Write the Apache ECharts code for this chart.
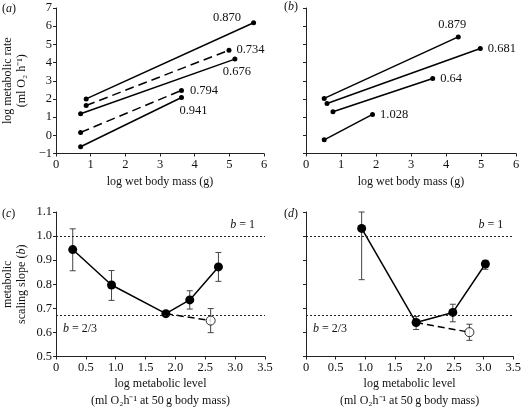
<!DOCTYPE html>
<html><head><meta charset="utf-8">
<script src="https://cdn.jsdelivr.net/npm/echarts@6/dist/echarts.min.js"></script>
<style>html,body{margin:0;padding:0;background:#fff}#c{width:524px;height:411px}</style>
</head><body><div id="c"></div>
<script>
// ---- Panel (a): regression lines (start/end points) ----
const aLineX = [[0.87, 5.70],[0.87, 4.99],[0.71, 5.16],[0.71, 3.62],[0.71, 3.62]];
const aLineY = [[2.00, 6.19],[1.64, 4.68],[1.19, 4.19],[0.16, 2.47],[-0.63, 2.08]];
const aLabels = ['0.870','0.734','0.676','0.794','0.941'];
const aDashed = [false, true, false, true, false];
// ---- Panel (b) ----
const bLineX = [[0.52, 4.35],[0.60, 4.98],[0.77, 3.62],[0.52, 1.90]];
const bLineY = [[2.03, 5.41],[1.75, 4.77],[1.30, 3.12],[-0.25, 1.15]];
const bLabels = ['0.879','0.681','0.64','1.028'];
// ---- Panel (c): slopes vs metabolic level ----
const cX = [0.28, 0.93, 1.84, 2.24, 2.72];
const cY = [0.944, 0.797, 0.678, 0.735, 0.872];
const cLo = [0.856, 0.733, 0.672, 0.697, 0.812];
const cHi = [1.030, 0.857, 0.684, 0.773, 0.932];
const cOpenX = [2.59], cOpenY = [0.649], cOpenLo = [0.599], cOpenHi = [0.699];
// ---- Panel (d) ----
const dX = [0.94, 1.86, 2.48, 3.03];
const dY = [1.032, 0.641, 0.683, 0.884];
const dLo = [0.819, 0.612, 0.644, 0.862];
const dHi = [1.100, 0.666, 0.717, 0.899];
const dOpenX = [2.76], dOpenY = [0.601], dOpenLo = [0.567], dOpenHi = [0.634];
const refLines = [1, 2/3];
const topXTicks = [0,1,2,3,4,5,6];
const botXTicks = [0,0.5,1,1.5,2,2.5,3,3.5];

const FONT = 'Liberation Serif';
const txt = {fontFamily: FONT, fontSize: 12, color: '#111'};
const axisLine = {show: true, onZero: false, lineStyle: {color: '#222', width: 1}};
const axisTick = {show: true, length: 3, lineStyle: {color: '#222'}};

function xAx(gi, max, interval, name, showLabels, fmt, nameGap){
  return {gridIndex: gi, type: 'value', min: 0, max: max, interval: interval,
    axisLine, axisTick, splitLine: {show: false},
    axisLabel: {show: showLabels, margin: 5, ...txt, fontSize: 12.5, formatter: fmt},
    name: name, nameLocation: 'middle', nameGap: nameGap,
    nameTextStyle: {...txt, lineHeight: 17}};
}
function yAx(gi, min, max, interval, showLabels, fmt, name, nameGap, rich){
  return {gridIndex: gi, type: 'value', min: min, max: max, interval: interval,
    axisLine, axisTick, splitLine: {show: false},
    axisLabel: {show: showLabels, margin: 4, ...txt, fontSize: 12.5, formatter: fmt},
    name: name || '', nameLocation: 'middle', nameGap: nameGap || 0, nameRotate: 90,
    nameTextStyle: {...txt, lineHeight: 14, rich: rich}};
}
const minus = v => String(v).replace('-', '\u2212');
const dec1 = v => v === 0 ? '0' : v.toFixed(1);

const series = [];
function regLines(gi, xs, ys, labels, dashed, labelPos){
  xs.forEach((xx, i) => {
    series.push({type: 'line', xAxisIndex: gi, yAxisIndex: gi, animation: false,
      symbol: 'circle', symbolSize: 5, itemStyle: {color: '#000'},
      lineStyle: {color: '#000', width: 1.5, type: dashed && dashed[i] ? [9, 5] : 'solid'},
      data: [[xx[0], ys[i][0]], {value: [xx[1], ys[i][1]],
        label: {show: true, formatter: labels[i], ...txt, fontSize: 12.5,
          position: labelPos[i][0], distance: labelPos[i][1], offset: labelPos[i][2] || [0,0]}}]});
  });
}
regLines(0, aLineX, aLineY, aLabels, aDashed,
  [['left', 6, [-4,-5]], ['right', 5], ['bottom', 4, [2,0]], ['right', 6], ['bottom', 4, [12,0]]]);
regLines(1, bLineX, bLineY, bLabels, null,
  [['top', 5, [-6, 2]], ['right', 5], ['right', 5], ['right', 5]]);

function errBars(gi, xs, lo, hi){
  series.push({type: 'custom', xAxisIndex: gi, yAxisIndex: gi, animation: false, z: 1,
    data: xs.map((x, i) => [x, lo[i], hi[i]]),
    renderItem: (params, api) => {
      const a = api.coord([api.value(0), api.value(1)]);
      const b = api.coord([api.value(0), api.value(2)]);
      const w = 3;
      const st = {stroke: '#444', lineWidth: 1};
      return {type: 'group', children: [
        {type: 'line', shape: {x1: a[0], y1: a[1], x2: b[0], y2: b[1]}, style: st},
        {type: 'line', shape: {x1: a[0]-w, y1: a[1], x2: a[0]+w, y2: a[1]}, style: st},
        {type: 'line', shape: {x1: b[0]-w, y1: b[1], x2: b[0]+w, y2: b[1]}, style: st}]};
    }});
}
function refMark(){
  return {silent: true, symbol: 'none', animation: false,
    lineStyle: {type: [2, 2], color: '#222', width: 1},
    data: [
      {yAxis: refLines[0], label: {show: true, position: 'insideEndTop', distance: [10, 5],
        formatter: '{i|b} = 1', ...txt, rich: {i: {fontFamily: FONT, fontStyle: 'italic', fontSize: 12}}}},
      {yAxis: refLines[1], label: {show: true, position: 'insideStartBottom', distance: [7, 7],
        formatter: '{i|b} = 2/3', ...txt, rich: {i: {fontFamily: FONT, fontStyle: 'italic', fontSize: 12}}}}
    ]};
}
function slopePanel(gi, xs, ys, lo, hi, ox, oy, olo, ohi, joinIdx){
  errBars(gi, xs, lo, hi);
  errBars(gi, ox, olo, ohi);
  series.push({type: 'line', xAxisIndex: gi, yAxisIndex: gi, animation: false, z: 3,
    data: [[xs[joinIdx], ys[joinIdx]], [ox[0], oy[0]]], symbol: 'none',
    lineStyle: {color: '#000', width: 1.5, type: [7, 4]}});
  series.push({type: 'line', xAxisIndex: gi, yAxisIndex: gi, animation: false, z: 4,
    data: xs.map((x, i) => [x, ys[i]]), symbol: 'circle', symbolSize: 9,
    itemStyle: {color: '#000'}, lineStyle: {color: '#000', width: 1.5},
    markLine: refMark()});
  series.push({type: 'scatter', xAxisIndex: gi, yAxisIndex: gi, animation: false, z: 5,
    data: ox.map((x, i) => [x, oy[i]]), symbol: 'circle', symbolSize: 9,
    itemStyle: {color: '#fff', borderColor: '#000', borderWidth: 1}});
}
slopePanel(2, cX, cY, cLo, cHi, cOpenX, cOpenY, cOpenLo, cOpenHi, 2);
slopePanel(3, dX, dY, dLo, dHi, dOpenX, dOpenY, dOpenLo, dOpenHi, 1);

const xName2 = 'log metabolic level\n(ml O\u2082h\u207B\u00B9 at 50\u2009g body mass)';
const it = {fontFamily: FONT, fontStyle: 'italic', fontSize: 12, color: '#111'};
const nm = {fontFamily: FONT, fontSize: 12, color: '#111'};

const option = {
  backgroundColor: '#fff', animation: false,
  grid: [
    {left: 55, top: 8, width: 209, height: 145.5},
    {left: 306, top: 8, width: 210, height: 145.5},
    {left: 55, top: 212, width: 210, height: 144.5},
    {left: 306, top: 212, width: 210, height: 144.5}
  ],
  xAxis: [
    xAx(0, 6, 1, 'log wet body mass (g)', true, v => String(v), 20),
    xAx(1, 6, 1, 'log wet body mass (g)', true, v => String(v), 20),
    xAx(2, 3.5, 0.5, xName2, true, dec1, 17),
    xAx(3, 3.5, 0.5, xName2, true, dec1, 17)
  ],
  yAxis: [
    yAx(0, -1, 7, 1, true, minus, 'log metabolic rate\n(ml O\u2082 h\u207B\u00B9)', 27),
    yAx(1, -1, 7, 1, false, minus),
    yAx(2, 0.5, 1.1, 0.1, true, v => v.toFixed(1),
      '{n|metabolic}\n{n|scaling slope (}{i|b}{n|)}', 27, {n: nm, i: it}),
    yAx(3, 0.5, 1.1, 0.1, false, v => v.toFixed(1))
  ],
  graphic: [
    {type: 'text', left: 2, top: 3, style: {text: '({i|a})', font: '12px "Liberation Serif"', fill: '#111', rich: {i: it}}},
    {type: 'text', left: 284, top: 1, style: {text: '({i|b})', font: '12px "Liberation Serif"', fill: '#111', rich: {i: it}}},
    {type: 'text', left: 2, top: 208, style: {text: '({i|c})', font: '12px "Liberation Serif"', fill: '#111', rich: {i: it}}},
    {type: 'text', left: 284, top: 208, style: {text: '({i|d})', font: '12px "Liberation Serif"', fill: '#111', rich: {i: it}}}
  ],
  series: series
};
const chart = echarts.init(document.getElementById('c'), null, {renderer: 'canvas'});
chart.setOption(option);
</script></body></html>
